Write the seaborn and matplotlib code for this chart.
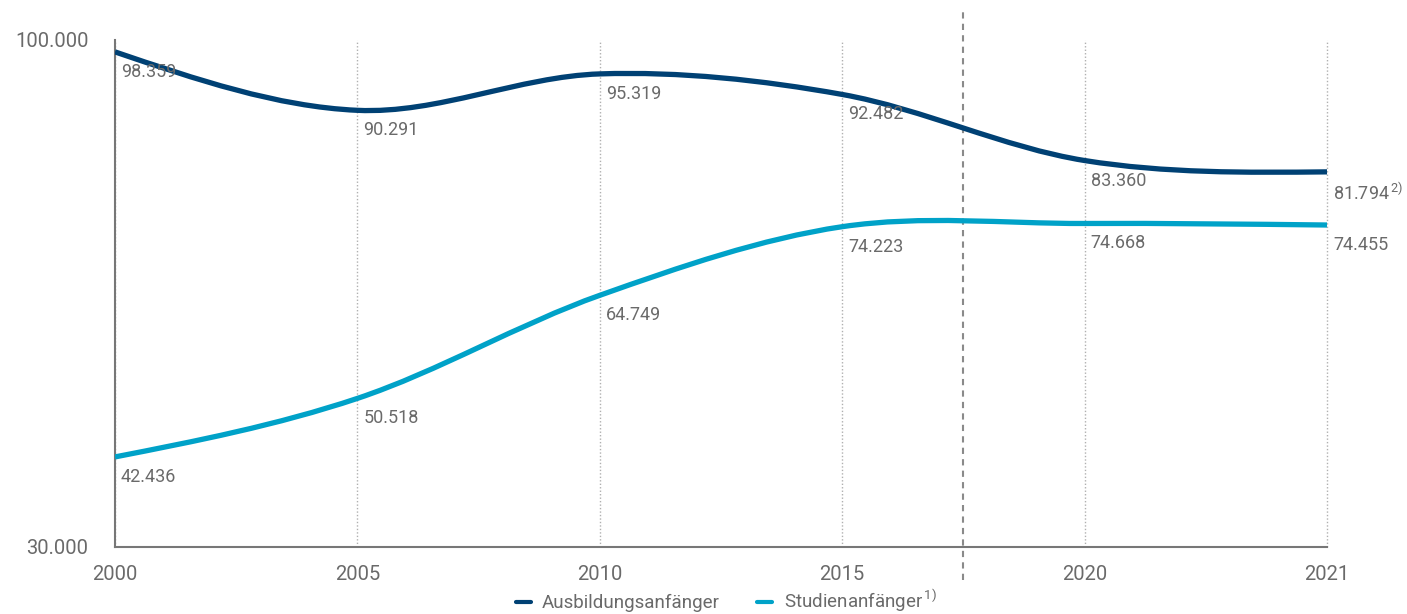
import matplotlib
matplotlib.use("Agg")
import matplotlib.pyplot as plt
from matplotlib.path import Path
from matplotlib.patches import PathPatch
from matplotlib.lines import Line2D
import seaborn as sns

# data
years = ["2000", "2005", "2010", "2015", "2020", "2021"]
ausbildung = [98359, 90291, 95319, 92482, 83360, 81794]
studien = [42436, 50518, 64749, 74223, 74668, 74455]
series_names = ["Ausbildungsanfänger", "Studienanfänger"]

sns.set_theme(style="white")
plt.rcParams["font.family"] = ["Roboto", "DejaVu Sans"]

DARK = "#004174"
LIGHT = "#00a2c8"
GREY = "#6a6a6a"


def smooth_path(xs, ys):
    # Catmull-Rom style spline drawn as cubic Bezier segments through the values
    n = len(xs)
    tang = [0.0] * n
    for i in range(1, n - 1):
        tang[i] = (ys[i + 1] - ys[i - 1]) / 2
    tang[0] = (3 * (ys[1] - ys[0]) - tang[1]) / 2
    tang[-1] = (3 * (ys[-1] - ys[-2]) - tang[-2]) / 2
    verts = [(xs[0], ys[0])]
    codes = [Path.MOVETO]
    for i in range(n - 1):
        verts += [(xs[i] + 1 / 3, ys[i] + tang[i] / 3),
                  (xs[i + 1] - 1 / 3, ys[i + 1] - tang[i + 1] / 3),
                  (xs[i + 1], ys[i + 1])]
        codes += [Path.CURVE4] * 3
    return Path(verts, codes)


fig = plt.figure(figsize=(14.07, 6.14), dpi=100)
ax = fig.add_axes([115 / 1407, 1 - 547 / 614, (1327 - 115) / 1407, 507 / 614])

x = list(range(len(years)))
for vals, col in [(ausbildung, DARK), (studien, LIGHT)]:
    ax.add_patch(PathPatch(smooth_path(x, vals), fill=False, edgecolor=col,
                           lw=3.8, capstyle="butt", zorder=3))
    for i, v in enumerate(vals):
        txt = f"{v:,}".replace(",", ".")
        if vals is ausbildung and i == len(vals) - 1:
            txt += r"$^{\mathregular{\,2)}}$"
        ax.annotate(txt, (i, v), xytext=(6, -11), textcoords="offset pixels",
                    ha="left", va="top", fontsize=13, color=GREY, zorder=4)

ax.set_xlim(0, len(years) - 1)
ax.set_ylim(30000, 100000)
ax.set_xticks(x, years)
ax.set_yticks([30000, 100000], ["30.000", "100.000"])
ax.tick_params(axis="y", length=0, pad=19, labelsize=14.5, colors=GREY)
ax.tick_params(axis="x", length=0, pad=13, labelsize=14.5, colors=GREY)
ax.grid(axis="x", linestyle=(0, (1, 1.5)), color="#b0b0b0", lw=1)
ax.grid(axis="y", visible=False)
for gl in ax.get_xgridlines():
    gl.set_clip_on(False)
sns.despine(ax=ax)
for s in ["left", "bottom"]:
    ax.spines[s].set_color("#777777")
    ax.spines[s].set_linewidth(1.5)

# separator between 2015 and 2020
ax.axvline(3.5, ymin=-0.065, ymax=1.055, clip_on=False, color="#8a8a8a",
           lw=1.5, ls=(0, (3, 2.5)), zorder=2)

handles = [Line2D([], [], color=DARK, lw=3), Line2D([], [], color=LIGHT, lw=3)]
labels = [series_names[0],
          series_names[1] + r"$^{\mathregular{\,1)}}$"]
fig.legend(handles, labels, loc="center", bbox_to_anchor=(0.516, 0.021),
           ncol=2, frameon=False, handlelength=0.8, handletextpad=0.6,
           columnspacing=2.0, labelcolor=GREY,
           prop={"family": ["Roboto", "DejaVu Sans"], "size": 13.5})

fig.savefig("out.png", dpi=100)
